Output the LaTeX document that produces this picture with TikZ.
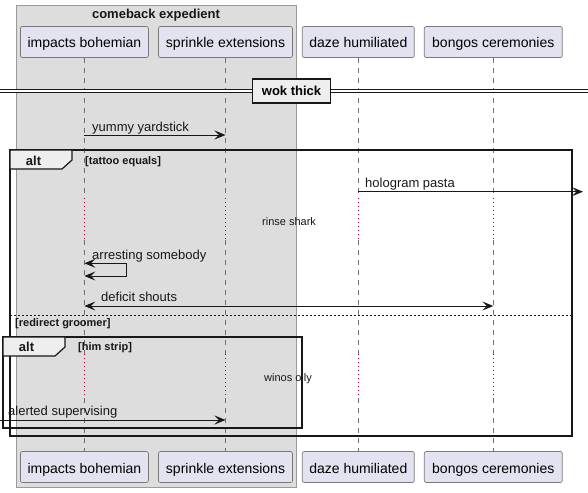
\documentclass[tikz,border=0pt]{standalone}
\usepackage{fontspec}
\setmainfont{Liberation Sans}
\usetikzlibrary{arrows.meta}
\definecolor{partfill}{HTML}{E2E2F0}
\definecolor{partdraw}{HTML}{7A7A7A}
\definecolor{boxfill}{HTML}{DDDDDD}
\definecolor{boxdraw}{HTML}{9A9A9A}
\definecolor{tabfill}{HTML}{EEEEEE}
\definecolor{lifecol}{HTML}{707070}
\definecolor{delayred}{HTML}{A80036}
\definecolor{inkcol}{HTML}{181818}
\tikzset{
  part/.style={draw=partdraw, fill=partfill, rounded corners=2pt, minimum height=31pt,
    inner sep=0pt, line width=0.7pt, text height=14pt, text depth=2pt, font=\fontsize{14}{16}\selectfont},
  life/.style={draw=lifecol, line width=0.6pt, dash pattern=on 5pt off 5pt},
  delayline/.style={draw=delayred, line width=0.7pt, dash pattern=on 1pt off 3pt},
  msg/.style={draw=inkcol, line width=0.9pt, -{Stealth[length=11pt,width=9pt,inset=4.5pt]}},
  msgboth/.style={draw=inkcol, line width=0.9pt, {Stealth[length=11pt,width=9pt,inset=4.5pt]}-{Stealth[length=11pt,width=9pt,inset=4.5pt]}},
  lbl/.style={font=\fontsize{13}{15}\selectfont, anchor=base west, inner sep=0pt, text=inkcol},
  small/.style={font=\fontsize{11}{13}\selectfont, anchor=base west, inner sep=0pt, text=inkcol},
  guard/.style={font=\bfseries\fontsize{11}{13}\selectfont, anchor=base west, inner sep=0pt, text=inkcol},
  titlefont/.style={font=\bfseries\fontsize{13}{15}\selectfont, inner sep=0pt, text=inkcol},
  frame/.style={draw=inkcol, line width=1.5pt},
}
\begin{document}
\begin{tikzpicture}[x=1pt,y=-1pt]
\useasboundingbox (0,0) rectangle (588,492);
% group box
\draw[draw=boxdraw, fill=boxfill, line width=0.8pt] (16,5) rectangle (296,487);
\node[titlefont, anchor=base] (gtitle) at (156,19) {comeback expedient};

% participants
\node[part, minimum width=128pt] (pa) at (84.4,42) {impacts bohemian};
\node[part, minimum width=134pt] (pb) at (225.5,42) {sprinkle extensions};
\node[part, minimum width=112pt] (pc) at (358.3,42) {daze humiliated};
\node[part, minimum width=138pt] (pd) at (493.3,42) {bongos ceremonies};
\node[part, minimum width=128pt] (pa2) at (84.4,467) {impacts bohemian};
\node[part, minimum width=134pt] (pb2) at (225.5,467) {sprinkle extensions};
\node[part, minimum width=112pt] (pc2) at (358.3,467) {daze humiliated};
\node[part, minimum width=138pt] (pd2) at (493.3,467) {bongos ceremonies};

% y levels
\coordinate (d1t) at (0,198);
\coordinate (d1b) at (0,240);
\coordinate (d2t) at (0,354);
\coordinate (d2b) at (0,398);
\foreach \p in {pa,pb,pc,pd}{
  \draw[life] (\p.south) -- (\p.south |- d1t);
  \draw[delayline] (\p.south |- d1t) -- (\p.south |- d1b);
  \draw[life] (\p.south |- d1b) -- (\p.south |- d2t);
  \draw[delayline] (\p.south |- d2t) -- (\p.south |- d2b);
  \draw[life] (\p.south |- d2b) -- (\p2.north);
}

% divider
\coordinate (divl) at (0,91.3);
\coordinate (divr) at (588,91.3);
\draw[draw=inkcol, line width=0.9pt, double=white, double distance=2.4pt] (divl) -- (divr);
\node[draw=inkcol, fill=tabfill, line width=1.6pt, minimum width=78pt, minimum height=24pt, inner sep=0pt,
  font=\bfseries\fontsize{13}{15}\selectfont] (wok) at (291.5,90.8) {wok thick};

% message 1
\coordinate (y1) at (0,135);
\draw[msg] (pa.south |- y1) -- (pb.south |- y1);
\node[lbl] (l1) at (92,131) {yummy yardstick};

% outer alt
\draw[frame] (10,150) rectangle (572,436);
\draw[frame, fill=tabfill, line width=1.2pt] (10,150) -- (72,150) -- (72,160) -- (62,169) -- (10,169) -- cycle;
\node[titlefont, anchor=base] (alt1) at (33.5,165) {alt};
\node[guard] (g1) at (85,164.5) {[tattoo equals]};

% hologram pasta
\coordinate (y2) at (0,191.7);
\coordinate (rightend) at (583,191.7);
\draw[msg] (pc.south |- y2) -- (rightend);
\node[lbl] (l2) at (365,187) {hologram pasta};

\node[small] (rs) at (262,225) {rinse shark};

% self message
\coordinate (y3a) at (0,263.3);
\coordinate (y3b) at (0,276);
\coordinate (selfx) at (126.7,0);
\draw[msgboth] (pa.south |- y3a) -- (selfx |- y3a) -- (selfx |- y3b) -- (pa.south |- y3b);
\node[lbl] (l3) at (92,259.3) {arresting somebody};

% deficit shouts
\coordinate (y4) at (0,306);
\draw[msgboth] (pa.south |- y4) -- (pd.south |- y4);
\node[lbl] (l4) at (101,301.7) {deficit shouts};

% else separator
\draw[draw=inkcol, line width=0.8pt, dash pattern=on 2pt off 2pt] (10,315) -- (572,315);
\node[guard] (g2) at (15,326) {[redirect groomer]};

% inner alt
\draw[frame] (3,337) rectangle (302,428);
\draw[frame, fill=tabfill, line width=1.2pt] (3,337) -- (65,337) -- (65,347) -- (55,356) -- (3,356) -- cycle;
\node[titlefont, anchor=base] (alt2) at (26.5,351.7) {alt};
\node[guard] (g3) at (78,350.7) {[him strip]};

\node[small] (wo) at (264,381.7) {winos oily};

% alerted supervising
\coordinate (y5) at (0,420);
\coordinate (leftend) at (0,420);
\draw[msg] (leftend) -- (pb.south |- y5);
\node[lbl] (l5) at (8,415.5) {alerted supervising};
\end{tikzpicture}
\end{document}
